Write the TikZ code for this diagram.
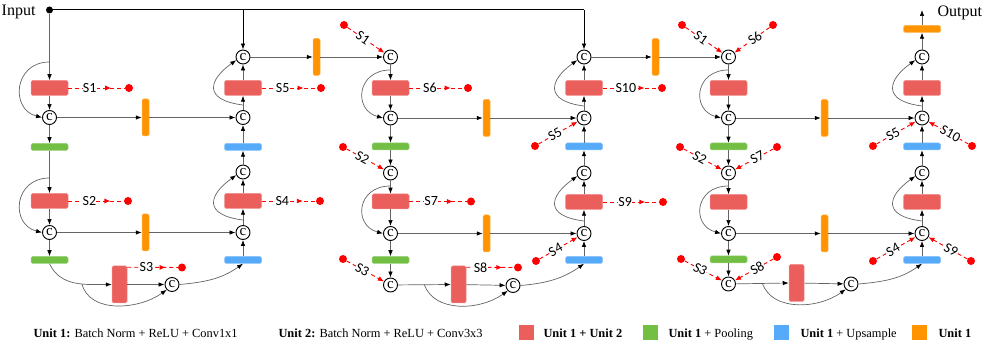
\documentclass[tikz,border=0pt]{standalone}
\usepackage{fontspec}
\setmainfont{Liberation Serif}
\newfontfamily\sfont{Carlito}
\usetikzlibrary{arrows.meta,decorations.markings}
\definecolor{cred}{RGB}{234,94,91}
\definecolor{cgreen}{RGB}{114,191,68}
\definecolor{cblue}{RGB}{86,170,250}
\definecolor{corange}{RGB}{255,147,0}
\definecolor{sred}{RGB}{255,0,0}
\definecolor{cline}{RGB}{100,100,100}
\begin{document}
\begin{tikzpicture}[x=1pt,y=1pt,
  box/.style={rectangle, rounded corners=1.5pt, inner sep=0pt, line width=0.5pt},
  rbox/.style={box, fill=cred, draw=cred!70!white, minimum width=37pt, minimum height=15pt},
  rvbox/.style={box, fill=cred, draw=cred!70!white, minimum width=15pt, minimum height=37pt},
  gbox/.style={box, fill=cgreen, draw=cgreen!70!white, minimum width=37pt, minimum height=7pt},
  bbox/.style={box, fill=cblue, draw=cblue!70!white, minimum width=37pt, minimum height=7pt},
  obox/.style={box, fill=corange, draw=corange!70!white, minimum width=7pt, minimum height=37pt},
  ohbox/.style={box, fill=corange, draw=corange!70!white, minimum width=37pt, minimum height=7pt},
  cc/.style={circle, draw=black, line width=0.9pt, fill=white, minimum size=14pt, inner sep=0pt, font=\fontsize{15}{15}\selectfont},
  sdot/.style={circle, fill=sred, minimum size=8pt, inner sep=0pt},
  ar/.style={draw=cline, line width=0.7pt, -{Latex[length=6pt,width=4.5pt,color=black]}},
  arb/.style={draw=black, line width=0.7pt, -{Latex[length=6pt,width=4.5pt]}},
  hs/.style={draw=sred, color=sred, line width=0.9pt, dash pattern=on 4pt off 3pt,
    postaction={decorate}, decoration={markings, mark=at position 0.76 with {\arrow{Latex[length=6pt,width=5pt]}}}},
  ds/.style={draw=sred, line width=0.9pt, dash pattern=on 4pt off 3pt, -{Latex[length=6pt,width=5pt,color=sred]}},
  sl/.style={font=\sfont\fontsize{14}{14}\selectfont, text=black, fill=white, inner sep=0.3pt},
  sw/.style={rectangle, minimum size=15pt, inner sep=0pt},
  lg/.style={anchor=base west, font=\fontsize{12.4}{14}\selectfont}
]
\useasboundingbox (0,0) rectangle (997,-347);

% ---------- input ----------
\node[circle, fill=black, minimum size=7pt, inner sep=0pt] (indot) at (49.5,-10) {};
\node[anchor=base east, font=\fontsize{16}{16}\selectfont] (intext) at (39,-16) {Input};
\coordinate (tj) at (243,-10);
\coordinate (tc) at (584,-10);

% ---------- block 1 nodes ----------
\node[rbox] (b1r1) at (49.5,-88) {};
\node[cc] (b1c2) at (49.5,-117.5) {c};
\node[gbox] (b1g1) at (49.5,-147) {};
\node[rbox] (b1r2) at (49.5,-201) {};
\node[cc] (b1c4) at (49.5,-232.5) {c};
\node[gbox] (b1g2) at (49.5,-260) {};
\node[rvbox] (b1rv) at (119.5,-284.5) {};
\node[cc] (b1cb) at (172,-284.5) {c};
\node[obox] (b1o2) at (145.5,-117.5) {};
\node[obox] (b1o4) at (145.5,-232.5) {};
\node[bbox] (b1b2) at (243,-260) {};
\node[cc] (b1C4) at (243,-232.5) {c};
\node[rbox] (b1R4) at (243,-201) {};
\node[cc] (b1C3) at (243,-172) {c};
\node[bbox] (b1b1) at (243,-147) {};
\node[cc] (b1C2) at (243,-117.5) {c};
\node[rbox] (b1R5) at (243,-88) {};
\node[cc] (b1C1) at (243,-57) {c};
\node[obox] (b1o1) at (316.5,-57) {};
\node[sdot] (b1s1) at (129,-88) {};
\node[sdot] (b1s2) at (128,-201) {};
\node[sdot] (b1s3) at (182,-267.5) {};
\node[sdot] (b1s4) at (320,-201) {};
\node[sdot] (b1s5) at (321,-88) {};

% ---------- block 2 nodes ----------
\node[cc] (b2c1) at (390.5,-57) {c};
\node[rbox] (b2r1) at (390.5,-88) {};
\node[cc] (b2c2) at (390.5,-118) {c};
\node[gbox] (b2g1) at (390.5,-146.5) {};
\node[cc] (b2c3) at (390.5,-173) {c};
\node[rbox] (b2r2) at (390.5,-201.5) {};
\node[cc] (b2c4) at (390.5,-233.5) {c};
\node[gbox] (b2g2) at (390.5,-260) {};
\node[cc] (b2c5) at (390.5,-285) {c};
\node[rvbox] (b2rv) at (458.5,-284.5) {};
\node[cc] (b2cb) at (513,-285.5) {c};
\node[obox] (b2o2) at (486.5,-118) {};
\node[obox] (b2o4) at (486.5,-233.5) {};
\node[bbox] (b2b2) at (584,-260) {};
\node[cc] (b2C4) at (584,-233.5) {c};
\node[rbox] (b2R4) at (584,-202) {};
\node[cc] (b2C3) at (584,-173) {c};
\node[bbox] (b2b1) at (584,-146.5) {};
\node[cc] (b2C2) at (584,-118) {c};
\node[rbox] (b2R5) at (584,-88) {};
\node[cc] (b2C1) at (584,-57) {c};
\node[obox] (b2o1) at (655.5,-57) {};
\node[sdot] (b2d1) at (344,-25) {};
\node[sdot] (b2d2) at (343,-147) {};
\node[sdot] (b2d3) at (343,-259) {};
\node[sdot] (b2s6) at (468,-88) {};
\node[sdot] (b2s7) at (471,-201.5) {};
\node[sdot] (b2s8) at (518,-267.5) {};
\node[sdot] (b2d5) at (535,-146) {};
\node[sdot] (b2d4) at (536,-261) {};
\node[sdot] (b2s9) at (663,-202) {};
\node[sdot] (b2s10) at (662,-88) {};

% ---------- block 3 nodes ----------
\node[cc] (b3c1) at (728.5,-57) {c};
\node[rbox] (b3r1) at (728.5,-88) {};
\node[cc] (b3c2) at (728.5,-118) {c};
\node[gbox] (b3g1) at (728.5,-146.5) {};
\node[cc] (b3c3) at (728.5,-173) {c};
\node[rbox] (b3r2) at (728.5,-202) {};
\node[cc] (b3c4) at (728.5,-233.5) {c};
\node[gbox] (b3g2) at (728.5,-259.5) {};
\node[cc] (b3c5) at (728.5,-284) {c};
\node[rvbox] (b3rv) at (796.5,-283) {};
\node[cc] (b3cb) at (851,-284) {c};
\node[obox] (b3o2) at (824.5,-118) {};
\node[obox] (b3o4) at (824.5,-233.5) {};
\node[bbox] (b3b2) at (922,-260) {};
\node[cc] (b3C4) at (922,-233.5) {c};
\node[rbox] (b3R4) at (922,-202) {};
\node[cc] (b3C3) at (922,-173) {c};
\node[bbox] (b3b1) at (922,-146.5) {};
\node[cc] (b3C2) at (922,-118) {c};
\node[rbox] (b3R5) at (922,-88) {};
\node[cc] (b3C1) at (922,-57) {c};
\node[ohbox] (b3oo) at (922,-29) {};
\coordinate (outp) at (922,-10);
\node[anchor=base west, font=\fontsize{16}{16}\selectfont] (outtext) at (934,-17) {Output};
\node[sdot] (b3d1) at (682,-25) {};
\node[sdot] (b3d6) at (773,-25) {};
\node[sdot] (b3d2) at (680,-147) {};
\node[sdot] (b3d7) at (777,-147) {};
\node[sdot] (b3d3) at (681,-259) {};
\node[sdot] (b3d8) at (777,-257) {};
\node[sdot] (b3d5) at (873,-146) {};
\node[sdot] (b3d10) at (972,-146) {};
\node[sdot] (b3d4) at (873,-261) {};
\node[sdot] (b3d9) at (971,-261) {};

% ---------- input connectors ----------
\draw[line width=1pt] (indot) -- (tc);
\draw[arb] (tj) -- (b1C1);
\draw[arb] (tc) -- (b2C1);
\draw[ar] (indot) -- (b1r1);

% ---------- block 1 connectors ----------
\draw[ar] (b1r1) -- (b1c2);
\draw[ar] (b1c2) -- (b1g1);
\draw[ar] (b1g1) -- (b1r2);
\draw[ar] (b1r2) -- (b1c4);
\draw[ar] (b1c4) -- (b1g2);
\coordinate (b1k1) at (49.5,-62);
\draw[ar] (b1k1) .. controls +(-36,0) and +(-32,8) .. (b1c2.west);
\coordinate (b1k2) at (49.5,-178);
\draw[ar] (b1k2) .. controls +(-36,0) and +(-32,8) .. (b1c4.west);
\draw[ar] (b1c2) -- (b1o2);
\draw[ar] (b1o2) -- (b1C2);
\draw[ar] (b1c4) -- (b1o4);
\draw[ar] (b1o4) -- (b1C4);
\draw[ar] (b1g2.south) to[out=-65,in=180] node[coordinate,pos=0.6] (b1sp) {} (b1rv.west);
\draw[ar] (b1rv) -- (b1cb);
\draw[ar] (b1sp) .. controls +(8,-30) and +(-28,-20) .. (b1cb.south west);
\draw[ar] (b1cb.east) to[out=5,in=-145] (b1b2.south);
\draw[ar] (b1b2) -- (b1C4);
\draw[ar] (b1C4) -- (b1R4);
\draw[ar] (b1R4) -- (b1C3);
\draw[ar] (b1C3) -- (b1b1);
\draw[ar] (b1b1) -- (b1C2);
\draw[ar] (b1C2) -- (b1R5);
\draw[ar] (b1R5) -- (b1C1);
\coordinate (b1q1) at (243,-105);
\draw[ar] (b1q1) .. controls +(-40,5) and +(-28,-20) .. (b1C1.205);
\coordinate (b1q2) at (243,-220);
\draw[ar] (b1q2) .. controls +(-40,5) and +(-28,-20) .. (b1C3.205);
\draw[ar] (b1C1) -- (b1o1);
\draw[ar] (b1o1) -- (b2c1);
\draw[hs] (b1r1) -- node[sl,pos=0.38]{S1} (b1s1);
\draw[hs] (b1r2) -- node[sl,pos=0.38]{S2} (b1s2);
\draw[hs] ([yshift=-1.5pt]b1rv.north east) -- node[sl,pos=0.38]{S3} (b1s3);
\draw[hs] (b1R4) -- node[sl,pos=0.38]{S4} (b1s4);
\draw[hs] (b1R5) -- node[sl,pos=0.38]{S5} (b1s5);

% ---------- block 2 connectors ----------
\draw[ar] (b2c1) -- (b2r1);
\draw[ar] (b2r1) -- (b2c2);
\draw[ar] (b2c2) -- (b2g1);
\draw[ar] (b2g1) -- (b2c3);
\draw[ar] (b2c3) -- (b2r2);
\draw[ar] (b2r2) -- (b2c4);
\draw[ar] (b2c4) -- (b2g2);
\draw[ar] (b2g2) -- (b2c5);
\coordinate (b2k1) at (390.5,-70);
\draw[ar] (b2k1) .. controls +(-34,0) and +(-30,8) .. (b2c2.west);
\coordinate (b2k2) at (390.5,-186);
\draw[ar] (b2k2) .. controls +(-34,0) and +(-30,8) .. (b2c4.west);
\draw[ar] (b2c2) -- (b2o2);
\draw[ar] (b2o2) -- (b2C2);
\draw[ar] (b2c4) -- (b2o4);
\draw[ar] (b2o4) -- (b2C4);
\draw[ar] (b2c5) -- node[coordinate,pos=0.5] (b2sp) {} (b2rv.west);
\draw[ar] (b2rv) -- (b2cb);
\draw[ar] (b2sp) .. controls +(10,-28) and +(-28,-20) .. (b2cb.south west);
\draw[ar] (b2cb.east) to[out=5,in=-145] (b2b2.south);
\draw[ar] (b2b2) -- (b2C4);
\draw[ar] (b2C4) -- (b2R4);
\draw[ar] (b2R4) -- (b2C3);
\draw[ar] (b2C3) -- (b2b1);
\draw[ar] (b2b1) -- (b2C2);
\draw[ar] (b2C2) -- (b2R5);
\draw[ar] (b2R5) -- (b2C1);
\coordinate (b2q1) at (584,-106);
\draw[ar] (b2q1) .. controls +(-40,5) and +(-28,-20) .. (b2C1.205);
\coordinate (b2q2) at (584,-221);
\draw[ar] (b2q2) .. controls +(-40,5) and +(-28,-20) .. (b2C3.205);
\draw[ar] (b2C1) -- (b2o1);
\draw[ar] (b2o1) -- (b3c1);
\draw[ds] (b2d1) -- node[sl,sloped,pos=0.42]{S1} (b2c1);
\draw[ds] (b2d2) -- node[sl,sloped,pos=0.42]{S2} (b2c3);
\draw[ds] (b2d3) -- node[sl,sloped,pos=0.42]{S3} (b2c5);
\draw[ds] (b2d5) -- node[sl,sloped,pos=0.42]{S5} (b2C2);
\draw[ds] (b2d4) -- node[sl,sloped,pos=0.42]{S4} (b2C4);
\draw[hs] (b2r1) -- node[sl,pos=0.38]{S6} (b2s6);
\draw[hs] (b2r2) -- node[sl,pos=0.38]{S7} (b2s7);
\draw[hs] ([yshift=-1.5pt]b2rv.north east) -- node[sl,pos=0.3]{S8} (b2s8);
\draw[hs] (b2R4) -- node[sl,pos=0.4]{S9} (b2s9);
\draw[hs] (b2R5) -- node[sl,pos=0.42]{S10} (b2s10);

% ---------- block 3 connectors ----------
\draw[ar] (b3c1) -- (b3r1);
\draw[ar] (b3r1) -- (b3c2);
\draw[ar] (b3c2) -- (b3g1);
\draw[ar] (b3g1) -- (b3c3);
\draw[ar] (b3c3) -- (b3r2);
\draw[ar] (b3r2) -- (b3c4);
\draw[ar] (b3c4) -- (b3g2);
\draw[ar] (b3g2) -- (b3c5);
\coordinate (b3k1) at (728.5,-70);
\draw[ar] (b3k1) .. controls +(-34,0) and +(-30,8) .. (b3c2.west);
\coordinate (b3k2) at (728.5,-186);
\draw[ar] (b3k2) .. controls +(-34,0) and +(-30,8) .. (b3c4.west);
\draw[ar] (b3c2) -- (b3o2);
\draw[ar] (b3o2) -- (b3C2);
\draw[ar] (b3c4) -- (b3o4);
\draw[ar] (b3o4) -- (b3C4);
\draw[ar] (b3c5) -- node[coordinate,pos=0.5] (b3sp) {} (b3rv.west);
\draw[ar] (b3rv) -- (b3cb);
\draw[ar] (b3sp) .. controls +(10,-28) and +(-28,-20) .. (b3cb.south west);
\draw[ar] (b3cb.east) to[out=5,in=-145] (b3b2.south);
\draw[ar] (b3b2) -- (b3C4);
\draw[ar] (b3C4) -- (b3R4);
\draw[ar] (b3R4) -- (b3C3);
\draw[ar] (b3C3) -- (b3b1);
\draw[ar] (b3b1) -- (b3C2);
\draw[ar] (b3C2) -- (b3R5);
\draw[ar] (b3R5) -- (b3C1);
\coordinate (b3q1) at (922,-106);
\draw[ar] (b3q1) .. controls +(-40,5) and +(-28,-20) .. (b3C1.205);
\coordinate (b3q2) at (922,-221);
\draw[ar] (b3q2) .. controls +(-40,5) and +(-28,-20) .. (b3C3.205);
\draw[ar] (b3C1) -- (b3oo);
\draw[ar] (b3oo) -- (outp);
\draw[ds] (b3d1) -- node[sl,sloped,pos=0.42]{S1} (b3c1);
\draw[ds] (b3d6) -- node[sl,sloped,pos=0.42]{S6} (b3c1);
\draw[ds] (b3d2) -- node[sl,sloped,pos=0.42]{S2} (b3c3);
\draw[ds] (b3d7) -- node[sl,sloped,pos=0.42]{S7} (b3c3);
\draw[ds] (b3d3) -- node[sl,sloped,pos=0.42]{S3} (b3c5);
\draw[ds] (b3d8) -- node[sl,sloped,pos=0.42]{S8} (b3c5);
\draw[ds] (b3d5) -- node[sl,sloped,pos=0.42]{S5} (b3C2);
\draw[ds] (b3d10) -- node[sl,sloped,pos=0.45]{S10} (b3C2);
\draw[ds] (b3d4) -- node[sl,sloped,pos=0.42]{S4} (b3C4);
\draw[ds] (b3d9) -- node[sl,sloped,pos=0.42]{S9} (b3C4);

% ---------- legend ----------
\node[lg] (u1) at (30,-338) {\textbf{Unit 1:} Batch Norm + ReLU + Conv1x1};
\node[lg] (u2) at (275,-338) {\textbf{Unit 2:} Batch Norm + ReLU + Conv3x3};
\node[sw, fill=cred] (lsr) at (526.5,-332.5) {};
\node[lg] (ltr) at (540,-338) {\textbf{Unit 1 + Unit 2}};
\node[sw, fill=cgreen] (lsg) at (650,-332.5) {};
\node[lg] (ltg) at (665,-338) {\textbf{Unit 1} + Pooling};
\node[sw, fill=cblue] (lsb) at (781.5,-332.5) {};
\node[lg] (ltb) at (797,-338) {\textbf{Unit 1} + Upsample};
\node[sw, fill=corange] (lso) at (919,-332.5) {};
\node[lg] (lto) at (935,-338) {\textbf{Unit 1}};
\end{tikzpicture}
\end{document}
